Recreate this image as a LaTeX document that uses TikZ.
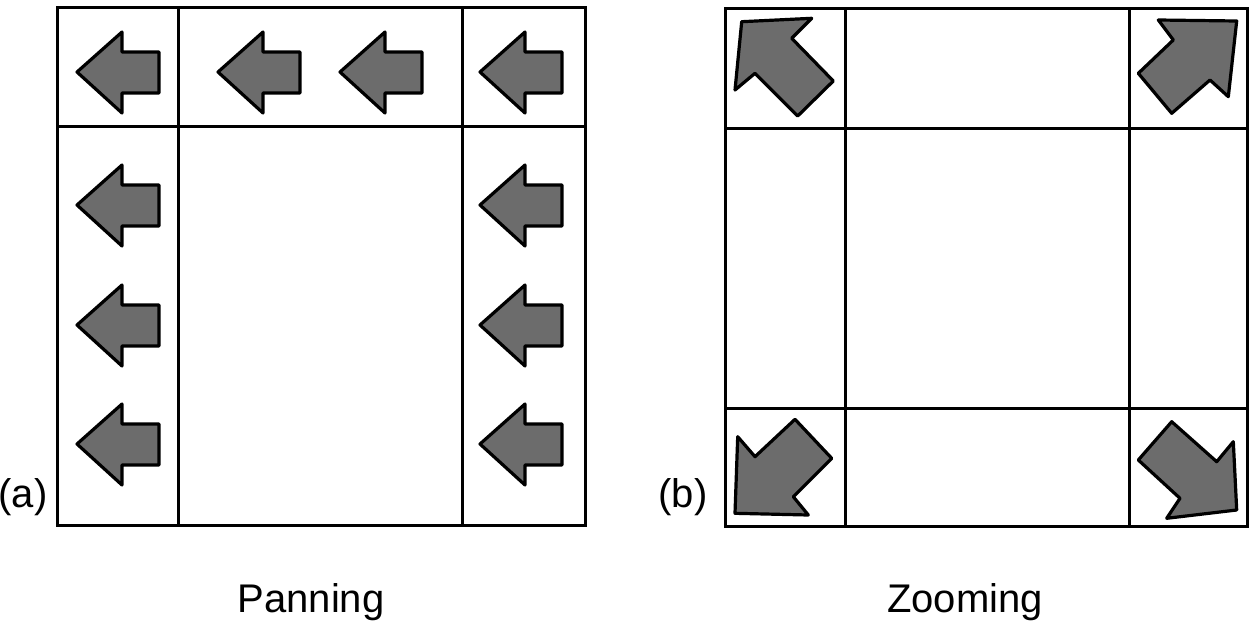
\documentclass[tikz,border=0pt]{standalone}
\usepackage{fontspec}
\setmainfont{Liberation Sans}
\definecolor{arrowgray}{RGB}{108,108,108}
\tikzset{
  gridline/.style={line width=3pt, black},
  arrowshape/.style={fill=arrowgray, draw=black, line width=3.2pt, line join=round},
  lbl/.style={font=\fontsize{40}{44}\selectfont, inner sep=0pt},
  larrow/.pic={\filldraw[arrowshape] (0,0) -- (45,-40) -- (45,-20) -- (82,-20) -- (82,21) -- (45,21) -- (45,41) -- cycle;}
}
\begin{document}
\begin{tikzpicture}[x=1pt,y=-1pt]
\useasboundingbox (0,0) rectangle (1255,621);
% Panel (a)
\draw[gridline] (57,7) rectangle (585,525);
\draw[gridline] (178,7) -- (178,525);
\draw[gridline] (462,7) -- (462,525);
\draw[gridline] (57,126) -- (585,126);
\pic at (77,72) {larrow};
\pic at (218,72) {larrow};
\pic at (340,72) {larrow};
\pic at (480,72) {larrow};
\pic at (77,205) {larrow};
\pic at (77,325) {larrow};
\pic at (77,444) {larrow};
\pic at (480,205) {larrow};
\pic at (480,325) {larrow};
\pic at (480,444) {larrow};
% Panel (b)
\draw[gridline] (725,8) rectangle (1247,526);
\draw[gridline] (845,8) -- (845,526);
\draw[gridline] (1129,8) -- (1129,526);
\draw[gridline] (725,128) -- (1247,128);
\draw[gridline] (725,408) -- (1247,408);
% top-left
\filldraw[arrowshape] (741.7,21.7) -- (811.7,18.3) -- (791.7,38.3) -- (833.3,81) -- (797.7,116) -- (755,73.3) -- (735,90) -- cycle;
% top-right
\filldraw[arrowshape] (1236.7,21) -- (1228.3,96.7) -- (1210,80) -- (1171.7,113.3) -- (1138.3,73.3) -- (1173.3,40) -- (1158.3,20) -- cycle;
% bottom-left
\filldraw[arrowshape] (735,513.3) -- (737.7,436.7) -- (755,456.7) -- (795,419.3) -- (831.7,458.3) -- (793.3,496.7) -- (808.3,515) -- cycle;
% bottom-right
\filldraw[arrowshape] (1236.7,510) -- (1166.7,518.3) -- (1180,498.3) -- (1138.3,460) -- (1171.7,421.7) -- (1216.7,461.7) -- (1233.3,441.7) -- cycle;
% labels
\node[lbl] (la) at (23,497) {(a)};
\node[lbl] (lb) at (683,497) {(b)};
\node[lbl] (pan) at (311,602) {Panning};
\node[lbl] (zoom) at (965,602) {Zooming};
\end{tikzpicture}
\end{document}
